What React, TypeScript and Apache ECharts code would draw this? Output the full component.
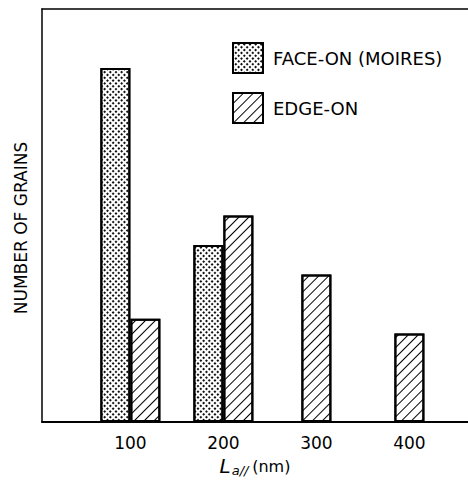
import React, { useEffect, useRef } from "react";
import * as echarts from "echarts";

const xTicks = [100, 200, 300, 400];
const faceOn: [number, number][] = [
  [100, 24],
  [200, 12],
];
const edgeOnPaired: [number, number][] = [
  [100, 7],
  [200, 14],
];
const edgeOnSingle: [number, number][] = [
  [300, 10],
  [400, 6],
];
const FACE = "FACE-ON (MOIRES)";
const EDGE = "EDGE-ON";
const yTitle = "NUMBER OF GRAINS";

const FONT = "DejaVu Sans";

const dotDecal = {
  symbol: "rect",
  symbolSize: 1,
  dashArrayX: [1.3, 1.5],
  dashArrayY: [1.3, 1.5],
  rotation: Math.PI / 4,
  color: "#111111",
  backgroundColor: "#ffffff",
};
const hatchDecal = {
  symbol: "rect",
  symbolSize: 1,
  dashArrayX: [1, 0],
  dashArrayY: [1, 5.6],
  rotation: -Math.PI / 4,
  color: "#000000",
  backgroundColor: "#ffffff",
};

export default function App() {
  const ref = useRef<HTMLDivElement>(null);
  useEffect(() => {
    if (!ref.current) return;
    const chart = echarts.init(ref.current, null, { renderer: "svg" });
    const barStyle = (decal: any) => ({
      color: "#ffffff",
      borderColor: "#000000",
      borderWidth: 2,
      decal,
    });
    chart.setOption({
      animation: false,
      backgroundColor: "#ffffff",
      aria: { enabled: false, decal: { show: true } },
      grid: { left: 42, right: 0, top: 9, bottom: 57, containLabel: false },
      legend: {
        orient: "vertical",
        left: 227,
        top: 37,
        itemWidth: 30,
        itemHeight: 30,
        itemGap: 18,
        icon: "rect",
        data: [FACE, EDGE],
        textStyle: {
          fontFamily: FONT,
          fontSize: 18,
          color: "#000",
          padding: [0, 0, 0, 5],
        },
      },
      xAxis: [
        {
          type: "value",
          min: 5,
          max: 463,
          position: "bottom",
          axisLine: { show: true, onZero: false, lineStyle: { color: "#000", width: 2 } },
          axisTick: { show: false },
          splitLine: { show: false },
          axisLabel: {
            customValues: xTicks,
            margin: 12,
            color: "#000",
            fontFamily: FONT,
            fontSize: 17,
          },
          name: "{L|L}{s|a//} {n|(nm)}",
          nameLocation: "middle",
          nameGap: 33,
          nameTextStyle: {
            color: "#000",
            fontFamily: FONT,
            rich: {
              L: { fontSize: 20, fontStyle: "italic", fontFamily: FONT, color: "#000" },
              s: { fontSize: 13, fontStyle: "italic", fontFamily: FONT, color: "#000", padding: [9, 0, 0, 1] },
              n: { fontSize: 16, fontFamily: FONT, color: "#000" },
            },
          },
        },
        {
          type: "value",
          min: 5,
          max: 463,
          position: "top",
          axisLine: { show: true, onZero: false, lineStyle: { color: "#000", width: 1.5 } },
          axisTick: { show: false },
          axisLabel: { show: false },
          splitLine: { show: false },
        },
      ],
      yAxis: {
        type: "value",
        min: 0,
        max: 28,
        axisLine: { show: true, lineStyle: { color: "#000", width: 1.5 } },
        axisTick: { show: false },
        axisLabel: { show: false },
        splitLine: { show: false },
      },
      graphic: [
        {
          type: "text",
          x: 21,
          y: 228,
          rotation: Math.PI / 2,
          style: {
            text: yTitle,
            fontFamily: FONT,
            fontSize: 17,
            fill: "#000",
            align: "center",
            verticalAlign: "middle",
          },
        },
      ],
      series: [
        {
          name: FACE,
          type: "bar",
          xAxisIndex: 0,
          data: faceOn,
          barWidth: 30,
          barGap: "0%",
          itemStyle: barStyle(dotDecal),
        },
        {
          name: EDGE,
          type: "bar",
          xAxisIndex: 0,
          data: edgeOnPaired,
          barWidth: 30,
          barGap: "0%",
          itemStyle: barStyle(hatchDecal),
        },
        {
          name: EDGE,
          type: "bar",
          xAxisIndex: 1,
          data: edgeOnSingle,
          barWidth: 30,
          itemStyle: barStyle(hatchDecal),
        },
      ],
    });
    return () => chart.dispose();
  }, []);
  return (
    <div
      ref={ref}
      style={{ position: "fixed", left: 0, top: 0, width: 468, height: 482 }}
    />
  );
}
